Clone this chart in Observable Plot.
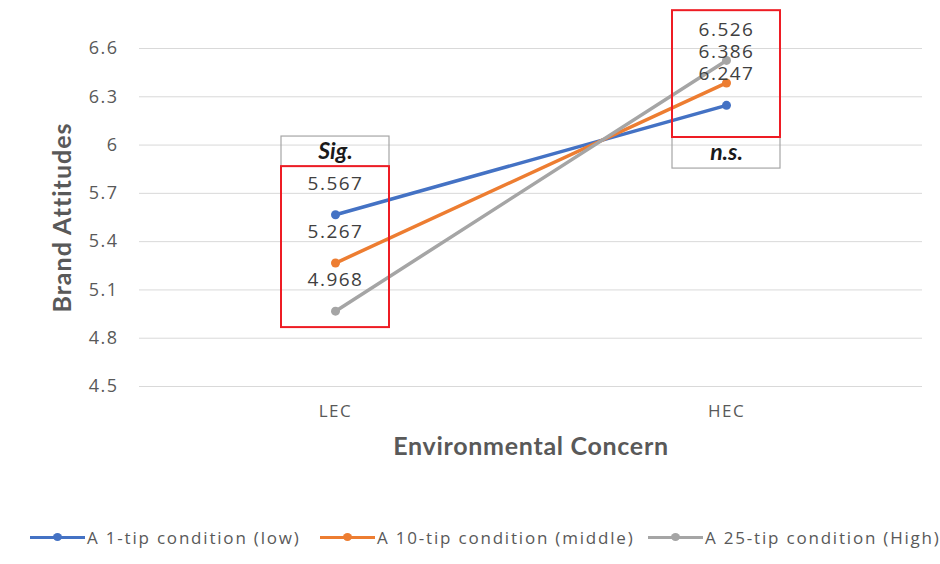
<!DOCTYPE html>
<html><head><meta charset="utf-8">
<script src="https://cdn.jsdelivr.net/npm/d3@7"></script>
<script src="https://cdn.jsdelivr.net/npm/@observablehq/plot@0.6"></script>
<style>
body{margin:0;background:#fff;font-family:"Open Sans",sans-serif;}
#legend{position:relative;height:54px;font-size:17px;color:#595959;white-space:nowrap;letter-spacing:1.8px}
.item{position:absolute;top:0;height:54px;display:flex;align-items:center}
.sw{position:relative;width:55px;height:10px;margin-right:2px}
.sw .ln{position:absolute;left:0;right:0;top:4px;height:3px}
.sw .dt{position:absolute;left:23px;top:1px;width:9px;height:8px;border-radius:50%}
</style></head>
<body><div id="chart"></div><div id="legend"></div>
<script>
const categories = ["LEC", "HEC"];
const seriesNames = ["A 1-tip condition (low)", "A 10-tip condition (middle)", "A 25-tip condition (High)"];
const lowValues = [5.567, 6.247];
const middleValues = [5.267, 6.386];
const highValues = [4.968, 6.526];
const colors = ["#4472C4", "#ED7D31", "#A5A5A5"];
const yTicks = [4.5, 4.8, 5.1, 5.4, 5.7, 6, 6.3, 6.6];
// annotation boxes (value ranges)
const redBoxes = [{cat: "LEC", y1: 4.866, y2: 5.866}, {cat: "HEC", y1: 6.047, y2: 6.835}];
const noteBoxes = [{cat: "LEC", y1: 5.866, y2: 6.053, label: "Sig."}, {cat: "HEC", y1: 5.854, y2: 6.047, label: "n.s."}];

const seriesValues = [lowValues, middleValues, highValues];
const data = seriesNames.flatMap((s, i) => categories.map((c, j) => ({series: s, cat: c, value: seriesValues[i][j]})));

const plot = Plot.plot({
  width: 940, height: 510,
  marginLeft: 139, marginRight: 18, marginTop: 48, marginBottom: 124,
  style: {fontFamily: "Open Sans, sans-serif", background: "#fff", overflow: "visible"},
  x: {type: "band", domain: categories, paddingInner: 0.724, paddingOuter: 0.362, label: null},
  y: {domain: [4.5, 6.6], label: null},
  color: {domain: seriesNames, range: colors},
  marks: [
    Plot.ruleY(yTicks, {stroke: "#d9d9d9", strokeWidth: 1}),
    Plot.axisY({ticks: yTicks, tickSize: 0, tickPadding: 21, tickFormat: d => String(d), fontSize: 18, fill: "#595959", label: null, ariaDescription: "ls15"}),
    Plot.axisX({tickSize: 0, tickPadding: 18, fontSize: 17, fill: "#595959", label: null, ariaDescription: "ls15"}),
    Plot.text(["Brand Attitudes"], {frameAnchor: "left", textAnchor: "middle", rotate: -90, dx: -77, dy: 0, fontSize: 25, fontWeight: "bold", fill: "#595959", fontFamily: "Lato, sans-serif", ariaDescription: "ls10"}),
    Plot.text(["Environmental Concern"], {frameAnchor: "bottom", dy: 68, fontSize: 25, fontWeight: "bold", fill: "#595959", fontFamily: "Lato, sans-serif", ariaDescription: "ls07"}),
    Plot.barY(noteBoxes, {x: "cat", y1: "y1", y2: "y2", fill: "none", stroke: "#a6a6a6", strokeWidth: 1.2}),
    Plot.text(noteBoxes, {x: "cat", y: d => (d.y1 + d.y2) / 2, text: "label", fontSize: 23, fontWeight: "bold", fontStyle: "italic", fill: "#1a1a1a", fontFamily: "Lato, sans-serif"}),
    Plot.line(data, {x: "cat", y: "value", z: "series", stroke: "series", strokeWidth: 3.5}),
    Plot.dot(data, {x: "cat", y: "value", fill: "series", r: 4.5}),
    Plot.text(data, {x: "cat", y: "value", text: d => d.value.toFixed(3), dy: -31, fontSize: 19, lineHeight: 1, fill: "#404040", ariaDescription: "ls15"}),
    Plot.barY(redBoxes, {x: "cat", y1: "y1", y2: "y2", fill: "none", stroke: "#ee1c24", strokeWidth: 2})
  ]
});
const spacing = {ls15: "1.5px", ls10: "1px", ls07: "0.7px"};
for (const [k, v] of Object.entries(spacing)) d3.select(plot).selectAll(`g[aria-description="${k}"]`).style("letter-spacing", v);
document.getElementById("chart").append(plot);

const legendX = [30, 320, 648];
const legend = document.getElementById("legend");
seriesNames.forEach((s, i) => {
  const it = document.createElement("div"); it.className = "item"; it.style.left = legendX[i] + "px";
  it.innerHTML = `<span class="sw"><span class="ln" style="background:${colors[i]}"></span><span class="dt" style="background:${colors[i]}"></span></span><span>${s}</span>`;
  legend.append(it);
});
</script></body></html>
